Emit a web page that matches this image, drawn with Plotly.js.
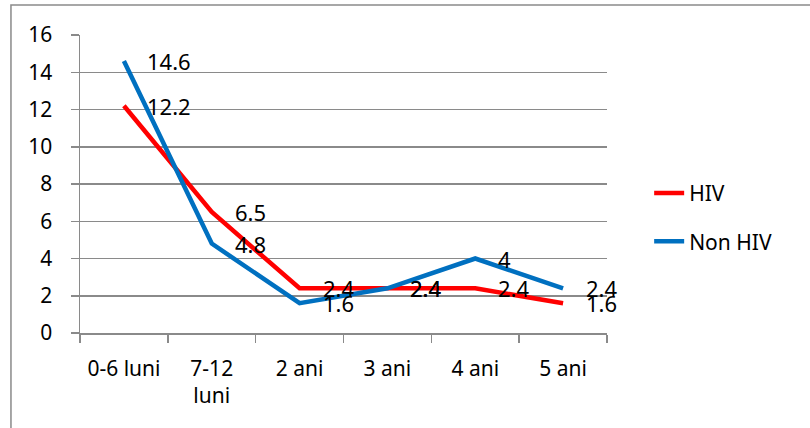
<!DOCTYPE html>
<html>
<head>
<meta charset="utf-8">
<script src="https://cdn.plot.ly/plotly-3.0.1.min.js"></script>
<style>
  html, body { margin: 0; padding: 0; background: #fff; }
  #chart { width: 810px; height: 428px; }
</style>
</head>
<body>
<div id="chart"></div>
<script>
// Age groups and rates for the two groups
const categories = ['0-6 luni', '7-12<br>luni', '2 ani', '3 ani', '4 ani', '5 ani'];
const hivValues = [12.2, 6.5, 2.4, 2.4, 2.4, 1.6];
const nonHivValues = [14.6, 4.8, 1.6, 2.4, 4, 2.4];
const yTicks = [0, 2, 4, 6, 8, 10, 12, 14, 16];

const FONT = 'Noto Sans, Open Sans, sans-serif';
const GRID = '#8a8a8a';

const traces = [
  {
    x: categories, y: hivValues, name: 'HIV', type: 'scatter', mode: 'lines',
    legendgroup: 'hiv',
    line: { color: '#ff0000', width: 4.5 }, hoverinfo: 'skip'
  },
  {
    x: categories, y: nonHivValues, name: 'Non HIV', type: 'scatter', mode: 'lines',
    legendgroup: 'nonhiv',
    line: { color: '#0070c0', width: 4.5 }, hoverinfo: 'skip'
  }
];

// Value labels to the right of each point
const annotations = [];
[hivValues, nonHivValues].forEach(vals => {
  vals.forEach((v, i) => {
    annotations.push({
      x: categories[i], y: v, xref: 'x', yref: 'y',
      text: String(v), showarrow: false,
      xanchor: 'left', yanchor: 'middle', xshift: 21,
      font: { family: FONT, size: 22, color: '#000' }
    });
  });
});

const layout = {
  width: 810, height: 428,
  margin: { l: 80, r: 203, t: 35, b: 95 },
  paper_bgcolor: '#fff', plot_bgcolor: '#fff',
  font: { family: FONT, size: 21, color: '#000' },
  showlegend: true,
  legend: {
    x: 1.08, y: 0.388, xanchor: 'left', yanchor: 'middle',
    font: { family: FONT, size: 21, color: '#000' },
    tracegroupgap: 18
  },
  xaxis: {
    type: 'category', range: [-0.5, 5.5],
    showline: true, linecolor: GRID, linewidth: 1.5,
    ticks: 'outside', tickson: 'boundaries', ticklen: 8, tickcolor: GRID, tickwidth: 1.5,
    showgrid: false, ticklabelstandoff: 16,
    tickfont: { family: FONT, size: 21, color: '#000' }
  },
  yaxis: {
    range: [0, 16], tickvals: yTicks, ticktext: yTicks.map(String),
    showline: true, linecolor: GRID, linewidth: 1.5,
    ticks: 'outside', ticklen: 8, tickcolor: GRID, tickwidth: 1.5,
    showgrid: true, gridcolor: GRID, gridwidth: 1.5,
    zeroline: false, ticklabelstandoff: 14,
    tickfont: { family: FONT, size: 21, color: '#000' }
  },
  annotations: annotations,
  shapes: [{
    type: 'rect', xref: 'paper', yref: 'paper',
    x0: -0.131, x1: 1.39, y0: -0.33, y1: 1.1007,
    line: { color: '#8a8a8a', width: 1.5 }, layer: 'below'
  }]
};

Plotly.newPlot('chart', traces, layout, { staticPlot: true, displayModeBar: false });
</script>
</body>
</html>
